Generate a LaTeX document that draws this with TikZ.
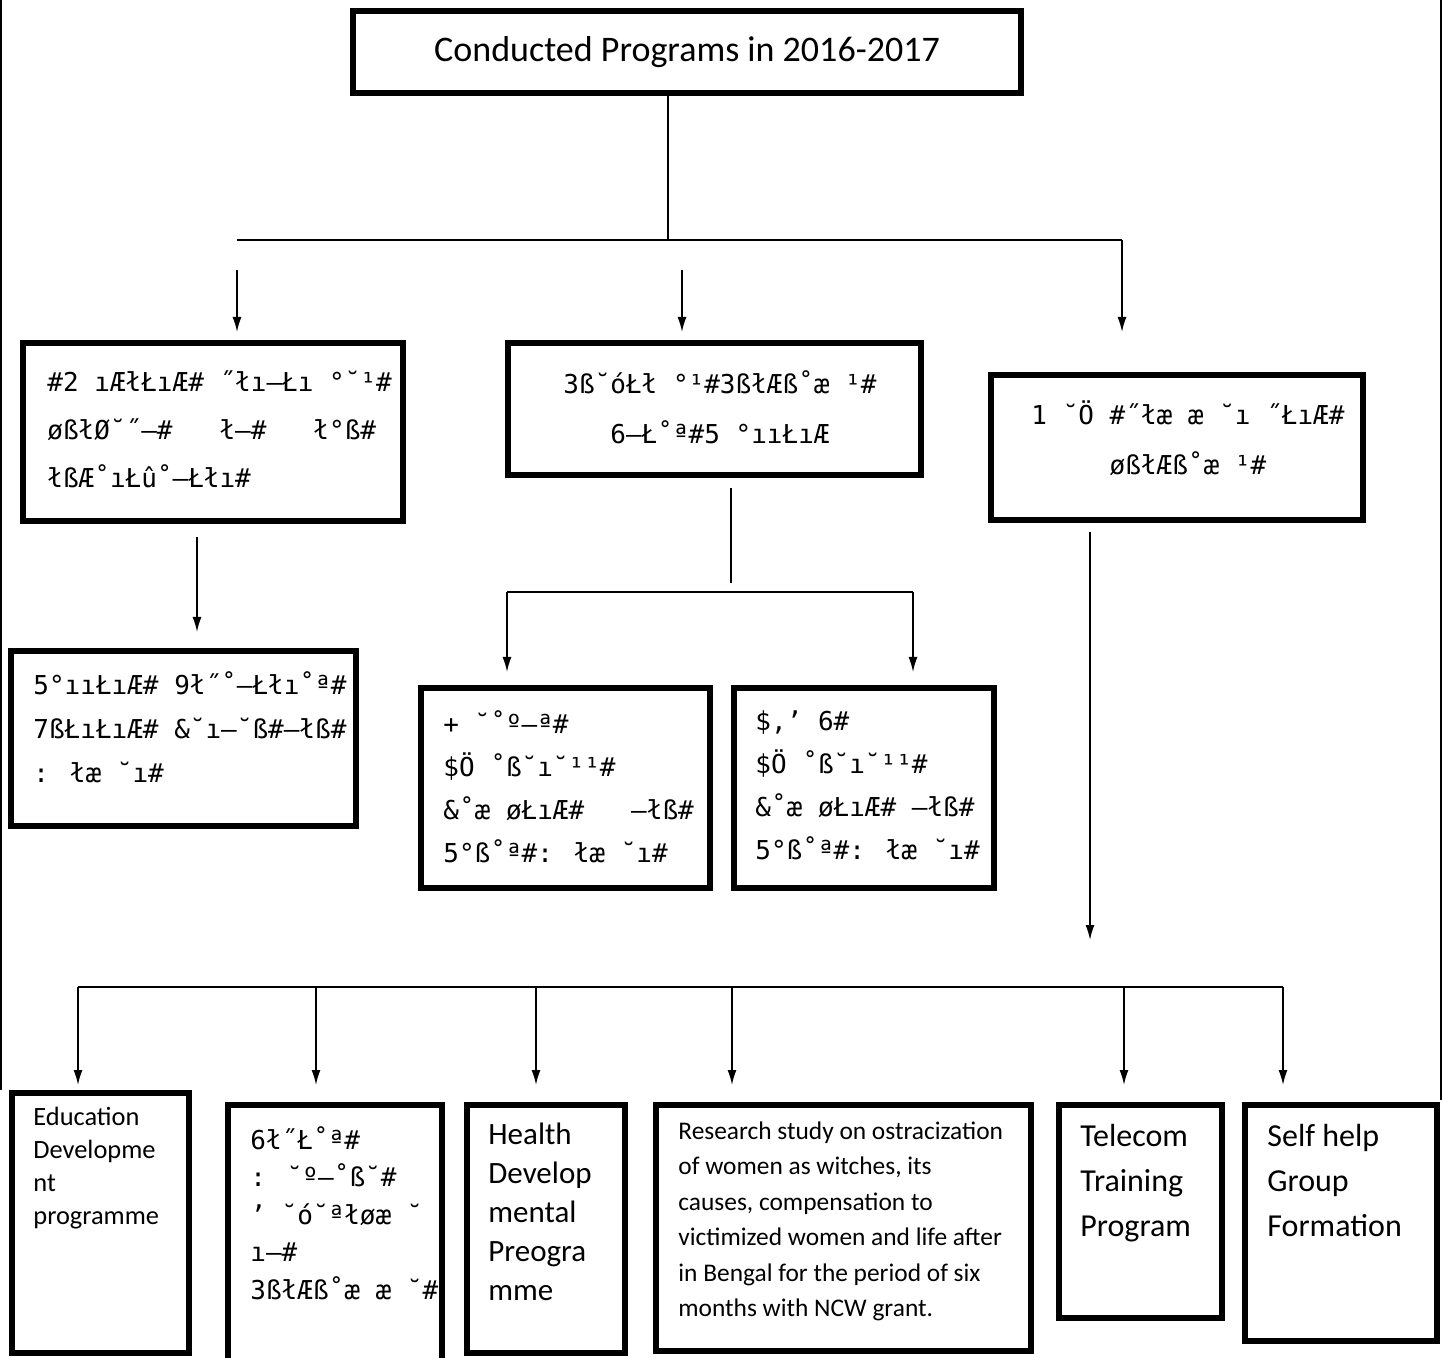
\documentclass[tikz,border=0pt]{standalone}
\usepackage{fontspec}
\setmainfont{Carlito}
\newfontfamily\garbled{DejaVu Sans Mono}
\usetikzlibrary{arrows.meta, positioning}

\begin{document}
\begin{tikzpicture}[x=0.5pt, y=-0.5pt, >={Latex[length=7.5pt, width=4.5pt]}]
    \tikzset{box/.style = {rectangle, draw, line width=3pt, anchor=north west, inner sep=0pt}}
    \tikzset{mono/.style = {anchor=north west, align=left, inner sep=0pt, font=\garbled\fontsize{13}{22}\selectfont}}
    \tikzset{plain/.style = {anchor=north west, align=left, inner sep=0pt}}
    \tikzset{line/.style = {draw, line width=0.8pt}}
    \tikzset{arrow/.style = {line, ->}}

    \useasboundingbox (0,0) rectangle (1442,1358);

    % page edges
    \draw[line width=0.6pt] (1,0) -- (1,1090);
    \draw[line width=0.6pt] (1441,0) -- (1441,1100);

    % Boxes
    \node [box, minimum width=334pt, minimum height=41pt, font=\fontsize{18}{21}\selectfont] (title) at (350,8) {Conducted Programs in 2016-2017};
    \node [box, minimum width=190pt, minimum height=89pt] (boxA) at (20,340) {};
    \node [box, minimum width=206.5pt, minimum height=66pt] (boxB) at (505,340) {};
    \node [box, minimum width=186pt, minimum height=72.5pt] (boxC) at (988,372) {};
    \node [box, minimum width=172.5pt, minimum height=87.5pt] (boxD) at (8,648) {};
    \node [box, minimum width=144.5pt, minimum height=100pt] (boxE) at (418,685) {};
    \node [box, minimum width=130pt, minimum height=100pt] (boxF) at (731,685) {};
    \node [box, minimum width=88.5pt, minimum height=130pt] (edu) at (9,1090) {};
    \node [box, minimum width=107pt, minimum height=145pt] (train) at (225,1102) {};
    \node [box, minimum width=79pt, minimum height=124pt] (health) at (464,1102) {};
    \node [box, minimum width=187.5pt, minimum height=123pt] (research) at (653,1102) {};
    \node [box, minimum width=81.5pt, minimum height=106.5pt] (telecom) at (1056,1102) {};
    \node [box, minimum width=96pt, minimum height=118pt] (selfhelp) at (1242,1102) {};

    % Box texts
    \node [mono, font=\garbled\fontsize{13}{24}\selectfont] (txtA) at (47,370) {\#2 ıÆłŁıÆ\# ˝łı–Łı °˘¹\#\\øßłØ˘˝–\#~~~ł–\#~~~ł°ß\#\\łßÆ˚ıŁû˚–Łłı\#};
    \node [mono, anchor=north, align=center, font=\garbled\fontsize{13}{25}\selectfont] (txtB) at (720,370) {3ß˘óŁł °¹\#3ßłÆß˚æ ¹\#\\6–Ł˚ª\#5 °ııŁıÆ};
    \node [mono, anchor=north, align=center, font=\garbled\fontsize{13}{25}\selectfont] (txtC) at (1188,400) {1 ˘Ö \#˝łæ æ ˘ı ˝ŁıÆ\#\\øßłÆß˚æ ¹\#};
    \node [mono] (txtD) at (33,671) {5°ııŁıÆ\# 9ł˝˚–Łłı˚ª\#\\7ßŁıŁıÆ\# \&˘ı–˘ß\#–łß\#\\: łæ ˘ı\#};
    \node [mono, font=\garbled\fontsize{13}{21.5}\selectfont] (txtE) at (443,710) {+ ˘˚º–ª\#\\\$Ö ˚ß˘ı˘¹¹\#\\\&˚æ øŁıÆ\#~~~–łß\#\\5°ß˚ª\#: łæ ˘ı\#};
    \node [mono, font=\garbled\fontsize{13}{21.5}\selectfont] (txtF) at (755,710) {\$,’ 6\#\\\$Ö ˚ß˘ı˘¹¹\#\\\&˚æ øŁıÆ\# –łß\#\\5°ß˚ª\#: łæ ˘ı\#};
    \node [plain, font=\fontsize{13.2}{16.5}\selectfont] (txtEdu) at (33,1107) {Education\\Developme\\nt\\programme};
    \node [mono, font=\garbled\fontsize{13}{18.75}\selectfont] (txtTrain) at (250,1126) {6ł˝Ł˚ª\#\\: ˘º–˚ß˘\#\\’ ˘ó˘ªłøæ ˘\\ı–\#\\3ßłÆß˚æ æ ˘\#};
    \node [plain, font=\fontsize{15.5}{19.5}\selectfont] (txtHealth) at (488,1123) {Health\\Develop\\mental\\Preogra\\mme};
    \node [plain, font=\fontsize{12.7}{17.75}\selectfont] (txtResearch) at (678,1121) {Research study on ostracization\\of women as witches, its\\causes, compensation to\\victimized women and life after\\in Bengal for the period of six\\months with NCW grant.};
    \node [plain, font=\fontsize{16}{22.5}\selectfont] (txtTelecom) at (1080,1124) {Telecom\\Training\\Program};
    \node [plain, font=\fontsize{16}{22.5}\selectfont] (txtSelf) at (1267,1124) {Self help\\Group\\Formation};

    % Connections
    \coordinate (hub) at (668,240);
    \coordinate (hubL) at (237,240);
    \coordinate (hubR) at (1122,240);
    \coordinate (tipC) at (1122,332);
    \draw [line] (title.south -| hub) -- (hub);
    \draw [line] (hubL) -- (hubR);
    \draw [arrow] (hubR) -- (tipC);
    \draw [arrow] (237,270) coordinate (startA) -- (237,332) coordinate (tipA);
    \draw [arrow] (682,270) coordinate (startB) -- (682,332) coordinate (tipB);
    \draw [arrow] (197,537) coordinate (startD) -- (197,632) coordinate (tipD);
    \draw [line] (731,488) coordinate (startBr) -- (731,583) coordinate (endBr);
    \coordinate (brL) at (507,592);
    \coordinate (brR) at (913,592);
    \draw [line] (brL) -- (brR);
    \draw [arrow] (brL) -- (507,672) coordinate (tipE);
    \draw [arrow] (brR) -- (913,672) coordinate (tipF);
    \draw [arrow] (1090,532) coordinate (startBus) -- (1090,940) coordinate (tipBus);

    % Bottom bus
    \coordinate (busL) at (78,987);
    \coordinate (busR) at (1283,987);
    \draw [line] (busL) -- (busR);
    \foreach \name/\xpos in {edu/78, train/316, health/536, research/732, telecom/1124, selfhelp/1283} {
        \coordinate (tip-\name) at (\xpos,1085);
        \draw [arrow] (tip-\name |- busL) -- (tip-\name);
    }
\end{tikzpicture}
\end{document}
